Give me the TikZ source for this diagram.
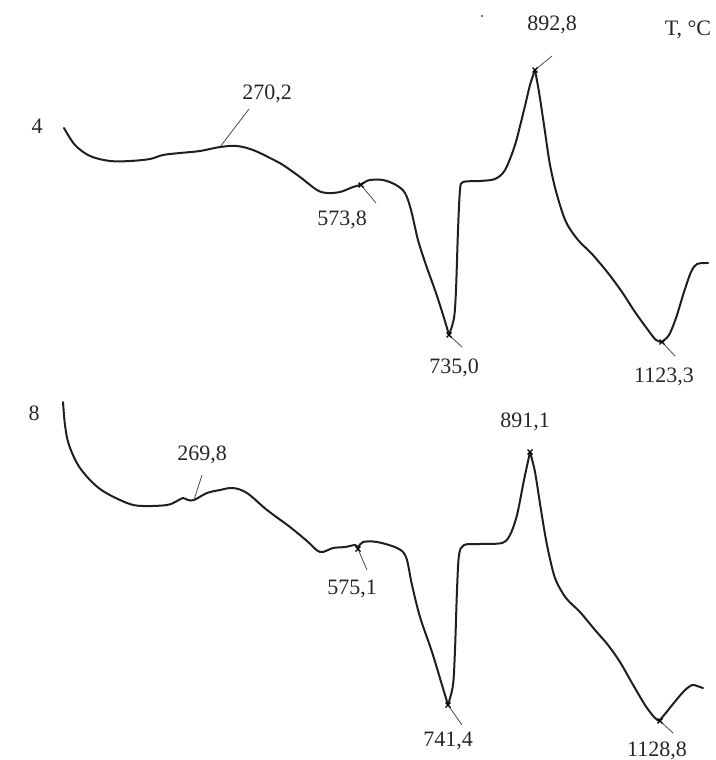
\documentclass[tikz,border=0pt]{standalone}
\usepackage{fontspec}
\setmainfont{Liberation Serif}
\usetikzlibrary{calc}
\begin{document}
\begin{tikzpicture}[x=1pt,y=-1pt,
  curve/.style={line width=2pt,line join=round,line cap=round,black!88},
  leader/.style={line width=0.8pt,black!70},
  lbl/.style={font=\fontsize{22}{25}\selectfont,text=black!85,inner sep=0pt},
  mk/.style={line width=1.2pt,black}]
\useasboundingbox (0,0) rectangle (715,760);
% ---- curve 4 ----
\draw[curve] plot[smooth,tension=0.55] coordinates {
 (64,128) (75,145) (90,156) (110,161) (130,161) (150,159) (163,155) (180,153)
 (200,151) (220,147) (237,146) (253,150) (270,158) (283,165) (300,177) (317,190)
 (327,193) (340,192) (353,187) (360,185) (365,182) (370,180) (383,180) (396,185)
 (405,193) (411,210) (418,240) (426,265) (436,293) (444,318) (449,335)};
\draw[curve] plot[smooth,tension=0.5] coordinates {
 (449,335) (454,318) (456,290) (458,230) (460,190) (463,182) (480,181) (495,179)
 (505,170) (515,145) (524,110) (530,85) (535,70)};
\draw[curve] plot[smooth,tension=0.5] coordinates {
 (535,70) (539,92) (544,125) (550,165) (557,195) (566,222) (578,240) (592,254)
 (608,273) (622,292) (635,312) (648,330) (656,340) (662,342)};
\draw[curve] plot[smooth,tension=0.5] coordinates {
 (662,342) (669,335) (676,318) (684,292) (691,272) (697,264) (708,263)};
% markers and leaders, curve 4
\coordinate (p1) at (220,147); \coordinate (q1) at (249,109);
\coordinate (p2) at (361,185); \coordinate (q2) at (376,203);
\coordinate (p3) at (449,335); \coordinate (q3) at (462,347);
\coordinate (p4) at (535,70);  \coordinate (q4) at (552,56);
\coordinate (p5) at (662,342); \coordinate (q5) at (675,356);
\foreach \a/\b in {p1/q1,p2/q2,p3/q3,p4/q4,p5/q5} \draw[leader] (\a) -- (\b);
\foreach \a in {p2,p3,p4,p5} {
  \draw[mk] ($(\a)+(-2.5,-2.5)$) -- ($(\a)+(2.5,2.5)$);
  \draw[mk] ($(\a)+(-2.5,2.5)$) -- ($(\a)+(2.5,-2.5)$);}
\node[lbl] (n4) at (37,126) {4};
\node[lbl] (l1) at (267,94) {270,2};
\node[lbl] (l2) at (342,220) {573,8};
\node[lbl] (l3) at (454,368) {735,0};
\node[lbl] (l4) at (552,25) {892,8};
\node[lbl] (l5) at (664,377) {1123,3};
\node[lbl] (tc) at (688,30) {T, °C};
\fill[black!70] (482,16) circle (1.2);
% ---- curve 8 ----
\draw[curve] plot[smooth,tension=0.55] coordinates {
 (63,402) (65,425) (69,445) (80,468) (100,489) (127,503) (143,506) (167,505)
 (177,501) (183,498) (188,500) (194,500) (207,493) (220,490) (233,488) (247,493)
 (267,510) (290,527) (307,541) (320,552) (333,548) (345,547) (355,545) (358,547)
 (363,542) (377,542) (397,548) (406,557) (412,585) (420,617) (432,652) (442,685) (448,705)};
\draw[curve] plot[smooth,tension=0.5] coordinates {
 (448,705) (453,685) (455,650) (457,590) (459,555) (464,545) (480,544) (502,543)
 (510,535) (517,515) (524,480) (530,452)};
\draw[curve] plot[smooth,tension=0.5] coordinates {
 (530,452) (535,472) (541,510) (547,545) (555,578) (566,598) (580,612) (595,630)
 (608,645) (620,662) (632,683) (645,705) (654,717) (659,721)};
\draw[curve] plot[smooth,tension=0.5] coordinates {
 (659,721) (665,714) (673,704) (684,691) (692,685) (697,686) (703,688)};
\coordinate (r1) at (194,500); \coordinate (s1) at (202,475);
\coordinate (r2) at (358,549); \coordinate (s2) at (367,570);
\coordinate (r3) at (448,705); \coordinate (s3) at (462,725);
\coordinate (r4) at (530,452);
\coordinate (r5) at (660,721); \coordinate (s5) at (673,733);
\foreach \a/\b in {r1/s1,r2/s2,r3/s3,r5/s5} \draw[leader] (\a) -- (\b);
\foreach \a in {r2,r3,r4,r5} {
  \draw[mk] ($(\a)+(-2.5,-2.5)$) -- ($(\a)+(2.5,2.5)$);
  \draw[mk] ($(\a)+(-2.5,2.5)$) -- ($(\a)+(2.5,-2.5)$);}
\node[lbl] (n8) at (34,413) {8};
\node[lbl] (m1) at (202,455) {269,8};
\node[lbl] (m2) at (352,589) {575,1};
\node[lbl] (m3) at (448,741) {741,4};
\node[lbl] (m4) at (525,422) {891,1};
\node[lbl] (m5) at (657,751) {1128,8};
\end{tikzpicture}
\end{document}
